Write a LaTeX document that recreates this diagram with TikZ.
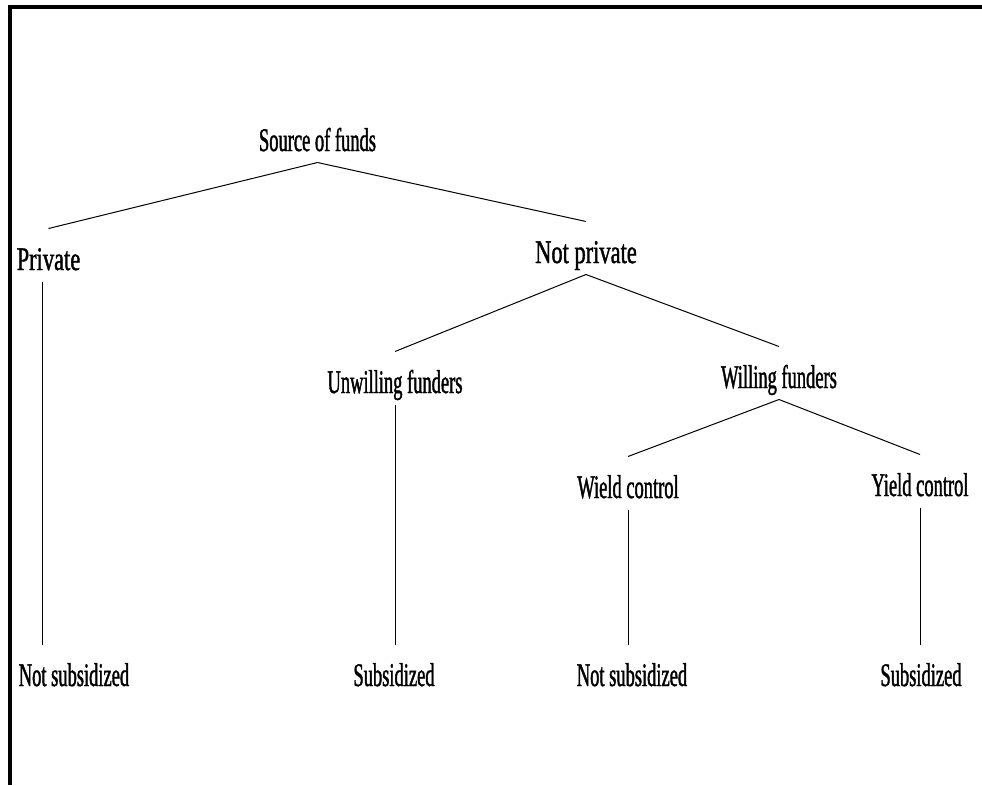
\documentclass[tikz,border=0pt]{standalone}
\usepackage{fontspec}
\newfontfamily\treefont{Liberation Serif}[FakeStretch=0.56,FakeBold=1.2]
\newfontfamily\widefont{Liberation Serif}[FakeStretch=0.68,FakeBold=1.2]
\usepackage{tikz}

\tikzset{
    lbl/.style={anchor=base,inner sep=0pt,text height=41pt,text depth=11pt,
        font=\treefont\fontsize{33}{36}\selectfont},
    widelbl/.style={lbl,font=\widefont\fontsize{33}{36}\selectfont}
}

\begin{document}
\begin{tikzpicture}[x=1pt,y=-1pt,line width=1pt]
        \useasboundingbox (0,0) rectangle (982,785);
        \draw[line width=4pt] (10,785) -- (10,7) -- (982,7);

        \node[lbl] (src) at (317.5,151) {Source of funds};

        \node[widelbl] (prv) at (48.5,270) {Private};
        \node[widelbl] (npv) at (586,263) {Not private};

        \node[lbl] (unw) at (395,393) {Unwilling funders};
        \node[lbl] (wil) at (779,388) {Willing funders};

        \node[lbl] (wld) at (628,498) {Wield control};
        \node[lbl] (yld) at (920,496) {Yield control};

        \node[lbl] (ns_1) at (74,686) {Not subsidized};
        \node[lbl] (sb_1) at (394,686) {Subsidized};
        \node[lbl] (ns_2) at (632,686) {Not subsidized};
        \node[lbl] (sb_2) at (921,686) {Subsidized};

        \draw (src.south) -- (prv.north);
        \draw (src.south) -- (npv.north);
        \draw (npv.south) -- (unw.north);
        \draw (npv.south) -- (wil.north);
        \draw (wil.south) -- (wld.north);
        \draw (wil.south) -- (yld.north);
        \draw ([xshift=-6pt]prv.south) -- ([xshift=-6pt]prv.south |- ns_1.north);
        \draw (unw.south) -- (unw.south |- sb_1.north);
        \draw (wld.south) -- (wld.south |- ns_2.north);
        \draw (yld.south) -- (yld.south |- sb_2.north);

    \end{tikzpicture}
\end{document}
